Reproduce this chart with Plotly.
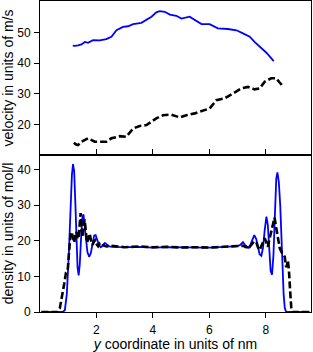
import plotly.graph_objects as go

# ---- velocity panel (top) ----
vel_blue_x = [1.16, 1.23, 1.35, 1.47, 1.59, 1.70, 1.88, 2.12, 2.35, 2.53, 2.71, 2.94, 3.12, 3.30,
              3.59, 3.77, 3.95, 4.12, 4.24, 4.42, 4.60, 4.83, 5.01, 5.30, 5.48, 5.72, 6.01,
              6.30, 6.66, 6.96, 7.19, 7.43, 7.60, 7.78, 8.02, 8.28]
vel_blue_y = [45.7, 45.6, 45.8, 46.1, 46.9, 46.6, 47.5, 47.4, 47.8, 48.6, 50.7, 51.8, 52.0, 52.7,
              53.1, 54.0, 55.1, 56.5, 56.9, 56.7, 55.8, 55.4, 54.5, 55.1, 54.0, 52.7, 52.7,
              51.3, 51.1, 50.7, 49.7, 48.6, 46.9, 45.3, 43.4, 40.7]

vel_black_x = [1.20, 1.28, 1.35, 1.47, 1.70, 1.94, 2.35, 2.53, 2.83, 3.06, 3.30, 3.53, 3.77, 4.00,
               4.12, 4.36, 4.65, 4.95, 5.18, 5.48, 5.77, 6.01, 6.25, 6.54, 6.84, 7.13, 7.37,
               7.60, 7.78, 7.96, 8.19, 8.37, 8.48, 8.60]
vel_black_y = [14.2, 13.6, 13.4, 14.5, 15.6, 14.5, 14.5, 15.6, 16.3, 16.1, 18.8, 19.6, 19.9, 21.3,
               22.1, 23.1, 23.3, 22.4, 23.1, 23.7, 24.5, 25.3, 28.0, 28.6, 30.2, 31.8, 32.3,
               31.5, 31.8, 34.0, 35.1, 35.1, 33.8, 32.6]

# ---- density panel (bottom) ----
den_blue_x = [0.05, 0.80, 0.88, 0.95, 1.02, 1.08, 1.13, 1.17, 1.21, 1.25, 1.29, 1.33, 1.37,
              1.41, 1.46, 1.50, 1.54, 1.58, 1.63, 1.68, 1.74, 1.80, 1.86, 1.92, 1.97, 2.03,
              2.09, 2.15, 2.22, 2.30, 2.38, 2.46, 2.60, 3.00, 3.50, 4.00, 4.50, 5.00, 5.50,
              6.00, 6.50, 7.00, 7.10, 7.19, 7.28, 7.37, 7.45, 7.52, 7.59, 7.66, 7.72, 7.78,
              7.84, 7.90, 7.96, 8.02, 8.07, 8.12, 8.17, 8.22, 8.27, 8.32, 8.37, 8.41, 8.46,
              8.51, 8.55, 8.59, 8.63, 8.67, 8.72, 9.55]
den_blue_y = [0.0, 0.0, 0.5, 5.0, 16.0, 30.0, 38.5, 41.5, 39.5, 31.0, 20.0, 12.5, 10.3,
              13.5, 21.5, 26.5, 27.4, 25.0, 20.5, 16.8, 15.5, 16.5, 19.5, 21.5, 21.6, 20.2,
              18.8, 18.2, 18.6, 19.4, 19.0, 18.4, 18.3, 18.2, 18.3, 18.1, 18.2, 18.1, 18.0,
              18.1, 18.3, 18.5, 18.9, 19.6, 18.6, 18.0, 18.8, 20.5, 21.6, 20.5, 18.0, 16.2,
              15.8, 18.0, 23.0, 26.8, 24.5, 17.0, 11.5, 10.5, 16.0, 27.0, 37.5, 39.2, 36.5,
              30.0, 23.5, 13.5, 5.0, 1.2, 0.0, 0.0]

den_black_x = [0.05, 0.62, 0.70, 0.78, 0.86, 0.92, 0.98, 1.03, 1.08, 1.12, 1.17, 1.21, 1.25,
               1.29, 1.33, 1.37, 1.41, 1.44, 1.47, 1.50, 1.54, 1.58, 1.62, 1.66, 1.71, 1.76,
               1.81, 1.86, 1.91, 1.96, 2.01, 2.06, 2.12, 2.18, 2.25, 2.35, 2.50, 3.00, 3.50,
               4.00, 4.50, 5.00, 5.50, 6.00, 6.50, 7.00, 7.20, 7.30, 7.37, 7.43, 7.50, 7.58,
               7.66, 7.72, 7.78, 7.84, 7.90, 7.96, 8.02, 8.07, 8.13, 8.19, 8.25, 8.31, 8.36,
               8.43, 8.49, 8.55, 8.61, 8.67, 8.71, 8.74, 8.78, 8.82, 8.86, 8.90, 8.95, 9.55]
den_black_y = [0.0, 0.0, 1.0, 4.0, 8.0, 11.0, 11.5, 17.0, 21.5, 22.5, 21.0, 19.5, 21.5,
               22.5, 20.5, 21.0, 25.0, 27.8, 24.0, 21.0, 23.5, 26.0, 23.0, 19.5, 20.5, 22.0,
               20.0, 18.8, 19.8, 20.2, 19.0, 18.5, 19.3, 19.5, 18.7, 18.4, 18.6, 18.2, 18.4,
               18.2, 18.3, 18.1, 18.2, 18.1, 18.3, 18.4, 18.6, 18.2, 18.8, 18.3, 18.9, 19.8,
               19.7, 18.2, 17.4, 18.5, 19.8, 20.7, 19.5, 18.3, 20.5, 22.5, 25.0, 26.5, 24.0,
               20.2, 18.0, 16.9, 16.0, 15.5, 13.0, 12.6, 14.5, 11.5, 6.0, 1.3, 0.0, 0.0]

x_ticks = [2, 4, 6, 8]
vel_ticks = [20, 30, 40, 50]
den_ticks = [0, 10, 20, 30, 40]

BLUE = "#0000ff"
DASH = "7px,3px"
FONT = "Liberation Sans, Arial, sans-serif"
TICK_SIZE = 12
TITLE_SIZE = 14

fig = go.Figure()
fig.add_trace(go.Scatter(x=vel_blue_x, y=vel_blue_y, mode="lines",
                         line=dict(color=BLUE, width=1.8), xaxis="x2", yaxis="y2"))
fig.add_trace(go.Scatter(x=vel_black_x, y=vel_black_y, mode="lines",
                         line=dict(color="black", width=2.6, dash=DASH), xaxis="x2", yaxis="y2"))
fig.add_trace(go.Scatter(x=den_blue_x, y=den_blue_y, mode="lines",
                         line=dict(color=BLUE, width=1.8), xaxis="x", yaxis="y"))
fig.add_trace(go.Scatter(x=den_black_x, y=den_black_y, mode="lines",
                         line=dict(color="black", width=2.6, dash=DASH), xaxis="x", yaxis="y"))

axis_common = dict(showline=True, linecolor="black", linewidth=1, showgrid=False,
                   zeroline=False, ticks="outside", ticklen=5, tickcolor="black",
                   tickwidth=1, tickfont=dict(size=TICK_SIZE, color="black", family=FONT))

fig.update_layout(
    width=313, height=352,
    margin=dict(l=40, r=2, t=1, b=40),
    paper_bgcolor="white", plot_bgcolor="white",
    showlegend=False,
    font=dict(family=FONT, size=TICK_SIZE, color="black"),
    xaxis=dict(axis_common, domain=[0, 1], range=[0, 9.6], tickvals=x_ticks,
               mirror="ticks", anchor="y", ticklabelstandoff=2,
               title=dict(text="<i>y</i> coordinate in units of nm", standoff=0,
                          font=dict(size=TITLE_SIZE, family=FONT))),
    yaxis=dict(axis_common, domain=[0, 0.505], range=[0, 44.1], tickvals=den_ticks,
               mirror=True, anchor="x", ticklabelstandoff=1,
               title=dict(text="density in units of mol/l", standoff=3,
                          font=dict(size=TITLE_SIZE, family=FONT))),
    xaxis2=dict(axis_common, domain=[0, 1], range=[0, 9.6], showticklabels=False,
                ticks="", mirror=True, anchor="y2", matches="x"),
    yaxis2=dict(axis_common, domain=[0.505, 1], range=[10.2, 60.2], tickvals=vel_ticks,
                mirror=True, anchor="x2", ticklabelstandoff=1,
                title=dict(text="velocity in units of m/s", standoff=3,
                           font=dict(size=TITLE_SIZE, family=FONT))),
)

fig.write_html("out.html", config={"displayModeBar": False},
               post_script="document.body.style.margin='0';document.body.style.padding='0';")
